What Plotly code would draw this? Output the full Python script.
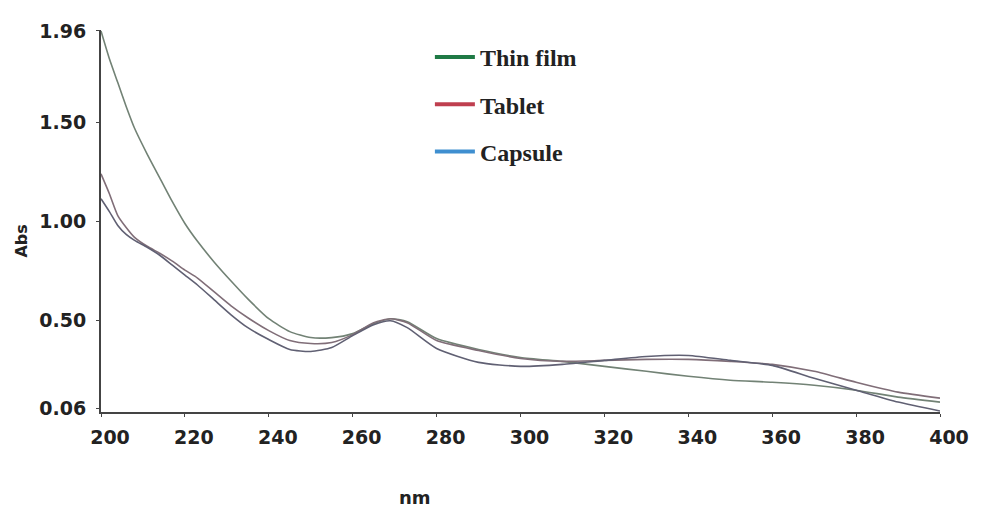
import plotly.graph_objects as go

# ---- data ----
wavelength = [200, 202, 204, 206, 208, 211, 214, 217, 220, 223, 227, 231, 235, 240, 245,
              250, 255, 260, 265, 269, 273, 280, 290, 300, 310, 320, 330, 340, 350,
              360, 370, 380, 390, 400]
thin_film = [1.96, 1.82, 1.70, 1.58, 1.47, 1.34, 1.22, 1.10, 0.99, 0.90, 0.795, 0.70,
             0.61, 0.51, 0.445, 0.415, 0.415, 0.435, 0.485, 0.51, 0.495, 0.41, 0.355,
             0.315, 0.295, 0.27, 0.245, 0.22, 0.20, 0.19, 0.175, 0.15, 0.115, 0.09]
tablet = [1.24, 1.14, 1.03, 0.97, 0.92, 0.875, 0.84, 0.80, 0.755, 0.715, 0.645, 0.575,
          0.515, 0.45, 0.40, 0.385, 0.39, 0.43, 0.49, 0.51, 0.49, 0.40, 0.35, 0.31,
          0.295, 0.30, 0.305, 0.305, 0.295, 0.28, 0.245, 0.19, 0.14, 0.11]
capsule = [1.115, 1.05, 0.98, 0.935, 0.905, 0.87, 0.83, 0.78, 0.73, 0.68, 0.605, 0.53,
           0.465, 0.405, 0.355, 0.345, 0.365, 0.425, 0.48, 0.50, 0.465, 0.36, 0.29,
           0.27, 0.28, 0.30, 0.32, 0.325, 0.30, 0.275, 0.21, 0.15, 0.09, 0.045]

series_names = ["Thin film", "Tablet", "Capsule"]
series_values = [thin_film, tablet, capsule]
curve_colors = ["#728275", "#806e78", "#606073"]
legend_colors = ["#1f7a45", "#bf3f4f", "#3f8fd0"]

x_ticks = [200, 220, 240, 260, 280, 300, 320, 340, 360, 380, 400]
y_ticks = [0.06, 0.50, 1.00, 1.50, 1.96]
y_tick_labels = ["0.06", "0.50", "1.00", "1.50", "1.96"]

fig = go.Figure()

for name, vals, col in zip(series_names, series_values, curve_colors):
    fig.add_trace(go.Scatter(
        x=wavelength, y=vals, mode="lines", name=name, showlegend=False,
        line=dict(color=col, width=1.6, shape="spline", smoothing=0.6),
    ))

# legend entries (legend swatches use saturated colours)
for name, col in zip(series_names, legend_colors):
    fig.add_trace(go.Scatter(
        x=[None], y=[None], mode="lines", name=name, legendgroup=name,
        line=dict(color=col, width=4),
    ))

axis_font = dict(family="DejaVu Sans", size=19, color="#222222", weight="bold")

# the page body adds an 8px offset; margins compensate for it
fig.update_layout(
    width=1000, height=516,
    margin=dict(l=93, r=68, t=19, b=112),
    paper_bgcolor="white", plot_bgcolor="white",
    showlegend=True,
    legend=dict(
        x=0.392, y=0.987, xanchor="left", yanchor="top", itemwidth=40,
        font=dict(family="Liberation Serif", size=24, color="#222222", weight="bold"),
        tracegroupgap=13, bgcolor="rgba(0,0,0,0)",
    ),
    xaxis=dict(
        range=[200, 400], tickvals=x_ticks, ticks="outside", ticklen=3,
        tickcolor="#444444", showline=True, linecolor="#444444", linewidth=2,
        showgrid=False, zeroline=False, tickfont=axis_font, ticklabelshift=9,
        ticklabelstandoff=4,
    ),
    yaxis=dict(
        range=[0.04, 1.965], tickvals=y_ticks, ticktext=y_tick_labels,
        ticks="outside", ticklen=3, tickcolor="#444444", showline=True,
        linecolor="#444444", linewidth=2, showgrid=False, zeroline=False,
        tickfont=axis_font, ticklabelstandoff=6,
    ),
    annotations=[
        dict(text="<b>nm</b>", xref="paper", yref="paper", x=0.374, y=-0.223,
             xanchor="center", yanchor="middle", showarrow=False,
             font=dict(family="DejaVu Sans", size=18, color="#222222")),
        dict(text="<b>Abs</b>", xref="paper", yref="paper", x=-0.095, y=0.447,
             xanchor="center", yanchor="middle", showarrow=False, textangle=-90,
             font=dict(family="DejaVu Sans", size=16, color="#222222")),
    ],
)

fig.write_html("out.html")
